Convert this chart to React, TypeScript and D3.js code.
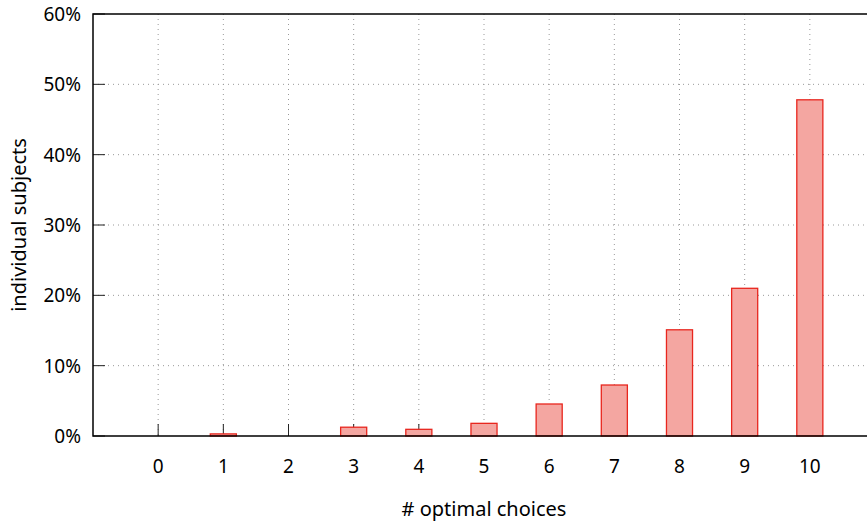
import { useEffect, useRef } from "react";
import * as d3 from "d3";

// number of optimal choices per subject (0..10) and share of subjects
const choices = [0, 1, 2, 3, 4, 5, 6, 7, 8, 9, 10];
const shares = [0, 0.3, 0, 1.25, 0.95, 1.8, 4.55, 7.25, 15.1, 21.0, 47.8];
const yTicks = [0, 10, 20, 30, 40, 50, 60];

const W = 867;
const H = 525;
const FONT = "'Noto Sans', sans-serif";

export default function App() {
  const svgRef = useRef<SVGSVGElement | null>(null);

  useEffect(() => {
    const margin = { top: 14, right: -8, bottom: 89, left: 93 };
    const width = W - margin.left - margin.right;
    const height = H - margin.top - margin.bottom;

    const svg = d3.select(svgRef.current);
    svg.selectAll("*").remove();

    const g = svg.append("g").attr("transform", `translate(${margin.left},${margin.top})`);

    const x = d3.scaleLinear().domain([-1, 11]).range([0, width]);
    const y = d3.scaleLinear().domain([0, 60]).range([height, 0]);

    // grid
    g.append("g")
      .selectAll("line")
      .data(choices)
      .join("line")
      .attr("x1", d => x(d)).attr("x2", d => x(d))
      .attr("y1", 0).attr("y2", height)
      .attr("stroke", "#999").attr("stroke-width", 1).attr("stroke-dasharray", "1,4");
    g.append("g")
      .selectAll("line")
      .data(yTicks.slice(1, -1))
      .join("line")
      .attr("x1", 0).attr("x2", width)
      .attr("y1", d => y(d)).attr("y2", d => y(d))
      .attr("stroke", "#999").attr("stroke-width", 1).attr("stroke-dasharray", "1,4");

    // tick marks (inward)
    g.append("g")
      .selectAll("line")
      .data(choices)
      .join("line")
      .attr("x1", d => x(d)).attr("x2", d => x(d))
      .attr("y1", height).attr("y2", height - 12)
      .attr("stroke", "#222").attr("stroke-width", 1);
    g.append("g")
      .selectAll("line")
      .data(yTicks)
      .join("line")
      .attr("x1", 0).attr("x2", 12)
      .attr("y1", d => y(d)).attr("y2", d => y(d))
      .attr("stroke", "#222").attr("stroke-width", 1);

    // bars
    const bw = x(0.4) - x(0);
    g.append("g")
      .selectAll("rect")
      .data(choices.map((c, i) => ({ c, v: shares[i] })).filter(d => d.v > 0))
      .join("rect")
      .attr("x", d => x(d.c) - bw / 2)
      .attr("y", d => y(d.v))
      .attr("width", bw)
      .attr("height", d => height - y(d.v))
      .attr("fill", "#f4a6a1")
      .attr("stroke", "#e8261e")
      .attr("stroke-width", 1.3);

    // frame
    g.append("path")
      .attr("d", `M${width},0H0V${height}H${width}`)
      .attr("fill", "none")
      .attr("stroke", "#000")
      .attr("stroke-width", 1.5);

    // tick labels
    g.append("g")
      .selectAll("text")
      .data(choices)
      .join("text")
      .attr("x", d => x(d))
      .attr("y", height + 37)
      .attr("text-anchor", "middle")
      .style("font-family", FONT)
      .style("font-size", "19px")
      .text(d => d);
    g.append("g")
      .selectAll("text")
      .data(yTicks)
      .join("text")
      .attr("x", -12)
      .attr("y", d => y(d) + 7)
      .attr("text-anchor", "end")
      .style("font-family", FONT)
      .style("font-size", "19px")
      .text(d => `${d}%`);

    // axis titles
    svg.append("text")
      .attr("x", margin.left + width / 2)
      .attr("y", 516)
      .attr("text-anchor", "middle")
      .style("font-family", FONT)
      .style("font-size", "20px")
      .text("# optimal choices");
    svg.append("text")
      .attr("transform", `translate(26,${margin.top + height / 2}) rotate(-90)`)
      .attr("text-anchor", "middle")
      .style("font-family", FONT)
      .style("font-size", "20px")
      .text("individual subjects");
  }, []);

  return (
    <svg
      ref={svgRef}
      width={W}
      height={H}
      style={{ position: "absolute", left: 0, top: 0, background: "#fff" }}
    />
  );
}
